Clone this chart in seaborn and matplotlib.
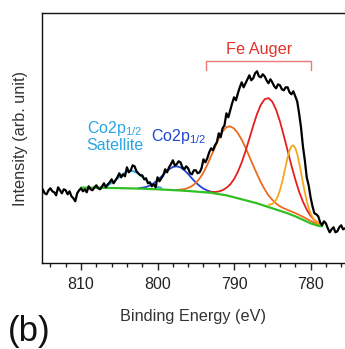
import numpy as np
import matplotlib
matplotlib.use("Agg")
import matplotlib.pyplot as plt
import seaborn as sns

# ---- data (binding energy in eV, intensity in arbitrary units) ----
spec_energy = np.arange(815.0, 775.4, -0.25)
spec_intensity = [74, 70, 69, 73, 75, 72, 71, 68, 76, 73, 70, 74, 73, 69, 72, 67,
                  65, 62, 70, 73, 75, 72, 74, 71, 77, 74, 73, 76, 78, 75, 74, 77,
                  80, 76, 79, 81, 84, 80, 83, 86, 90, 86, 89, 87, 96, 91, 93, 98,
                  97, 92, 90, 88, 88, 84, 85, 80, 81, 77, 79, 76, 86, 82, 85, 88,
                  94, 91, 96, 99, 103, 98, 99, 102, 101, 96, 94, 97, 95, 90, 89, 93,
                  93, 90, 91, 95, 104, 101, 105, 111, 115, 113, 118, 121, 130, 126, 135, 138,
                  150, 146, 153, 160, 166, 163, 170, 176, 181, 176, 180, 184, 188, 183, 185, 190,
                  192, 187, 186, 189, 187, 183, 180, 184, 181, 177, 175, 179, 178, 174, 173, 176,
                  176, 171, 169, 172, 167, 162, 150, 136, 117, 103, 86, 78, 66, 57, 50, 49,
                  47, 41, 38, 42, 40, 35, 31, 34, 36, 31, 32, 36, 38, 34, 35]

bg_energy = [810, 809, 808, 807, 806, 805, 804, 803, 802, 801, 800, 799, 798,
             797, 796, 795, 794, 793, 792, 791, 790, 789, 788, 787, 786, 785,
             784, 783, 782, 781, 780, 779, 778.5]
bg_intensity = [75.7, 75.6, 75.5, 75.4, 75.3, 75.2, 75.0, 74.8, 74.6, 74.3,
                74.0, 73.6, 73.2, 72.8, 72.3, 71.7, 71.1, 70.5, 69.2, 68.0,
                66.0, 64.0, 62.0, 60.0, 57.5, 55.0, 52.5, 50.0, 47.0, 43.5,
                40.0, 37.5, 37.0]

sat_energy = np.arange(808.0, 799.4, -0.5)
sat_intensity = [75.3, 75.8, 76.6, 78.0, 80.2, 83.0, 86.3, 89.4, 91.7, 92.5,
                 91.7, 89.4, 86.3, 83.0, 80.2, 78.0, 76.4, 75.5]

co_energy = np.arange(802.5, 792.4, -0.5)
co_intensity = [75.0, 75.6, 76.3, 77.8, 80.1, 83.1, 86.7, 90.6, 94.0, 96.3,
                97.0, 95.9, 93.1, 89.3, 84.9, 80.8, 77.4, 74.7, 72.8, 71.6, 70.7]

fe1_energy = np.arange(797.5, 778.4, -0.5)
fe1_intensity = [73.4, 73.7, 74.2, 75.4, 77.3, 80.3, 84.8, 90.8, 98.4, 107.2,
                 115.9, 124.7, 131.7, 136.2, 137.0, 134.8, 130.2, 123.6, 115.6, 106.8,
                 97.8, 89.2, 81.0, 74.0, 67.9, 63.5, 59.7, 57.0, 55.0, 53.4,
                 51.8, 50.2, 48.4, 46.5, 44.5, 42.5, 40.7, 39.0, 38.0]

fe2_energy = np.arange(793.5, 778.4, -0.5)
fe2_intensity = [71.2, 71.3, 71.3, 71.8, 73.1, 75.5, 78.9, 84.2, 91.5, 100.9,
                 112.2, 124.7, 137.5, 149.3, 158.5, 164.1, 165.2, 161.6, 153.5, 141.8,
                 127.7, 112.7, 97.7, 83.9, 71.7, 61.7, 53.6, 47.5, 43.2, 40.1, 38.4]

fe3_energy = np.arange(785.5, 778.4, -0.25)
fe3_intensity = [58.5, 58.7, 59.5, 61.0, 63.5, 67.6, 73.2, 80.3, 88.5, 97.4,
                 105.8, 112.6, 116.9, 117.9, 115.4, 109.5, 101.0, 91.2, 80.8, 71.0,
                 62.4, 55.4, 49.8, 46.0, 43.2, 41.2, 39.8, 38.8, 38.2]

x_ticks = [810, 800, 790, 780]
x_minor = np.arange(814, 775, -2)

# ---- style ----
sns.set_theme(style="white")
plt.rcParams['font.family'] = ['Liberation Sans', 'DejaVu Sans']
plt.rcParams['mathtext.fontset'] = 'custom'
plt.rcParams['mathtext.rm'] = 'Liberation Sans'
plt.rcParams['mathtext.it'] = 'Liberation Sans'

fig = plt.figure(figsize=(3.45, 3.49), dpi=100)
ax = fig.add_axes([42 / 345, 1 - 263.3 / 349, 1 - 42 / 345, (263.3 - 13.3) / 349])

c_black = "#000000"
c_sat = "#2ba6e1"
c_co = "#1f45d2"
c_fe1 = "#ef6a1f"
c_fe2 = "#e3201f"
c_fe3 = "#f6a71d"
c_bg = "#30bf24"

sns.lineplot(x=spec_energy, y=spec_intensity, ax=ax, color=c_black, lw=1.6, zorder=5)
sns.lineplot(x=sat_energy, y=sat_intensity, ax=ax, color=c_sat, lw=1.3, zorder=3)
sns.lineplot(x=co_energy, y=co_intensity, ax=ax, color=c_co, lw=1.3, zorder=3)
sns.lineplot(x=fe1_energy, y=fe1_intensity, ax=ax, color=c_fe1, lw=1.3, zorder=3)
sns.lineplot(x=fe2_energy, y=fe2_intensity, ax=ax, color=c_fe2, lw=1.3, zorder=3)
sns.lineplot(x=fe3_energy, y=fe3_intensity, ax=ax, color=c_fe3, lw=1.3, zorder=3)
sns.lineplot(x=bg_energy, y=bg_intensity, ax=ax, color=c_bg, lw=1.6, zorder=4)

ax.set_xlim(815.1, 775.5)
ax.set_ylim(0, 250)
ax.set_yticks([])
ax.set_xticks(x_ticks)
ax.set_xticks(x_minor, minor=True)
ax.tick_params(axis='x', which='major', direction='out', length=5, width=1,
               bottom=True, labelsize=11.5, pad=5, colors='#222222')
ax.tick_params(axis='x', which='minor', direction='out', length=3, width=1, bottom=True,
               colors='#222222')
for s in ['left', 'top', 'bottom']:
    ax.spines[s].set_color('#111111')
    ax.spines[s].set_linewidth(1.0)
ax.spines['right'].set_visible(False)

ax.set_xlabel("Binding Energy (eV)", fontsize=11.7, color='#333333', labelpad=12)
ax.set_ylabel("Intensity (arb. unit)", fontsize=11.7, color='#333333', labelpad=10)

# annotations
ax.text(805.6, 135, "Co2p$_{1/2}$", color=c_sat, fontsize=11.5, ha='center', va='center')
ax.text(805.6, 118, "Satellite", color=c_sat, fontsize=11.5, ha='center', va='center')
ax.text(797.3, 126.5, "Co2p$_{1/2}$", color=c_co, fontsize=11.5, ha='center', va='center')
ax.text(786.7, 214, "Fe Auger", color="#e0332c", fontsize=11.7, ha='center', va='center')
ax.plot([793.7, 793.7, 779.9, 779.9], [193.5, 202.3, 202.3, 193.5],
        color="#e77a7a", lw=1.0, clip_on=False)

fig.text(8 / 345, 1 - 331 / 349, "(b)", fontsize=25, ha='left', va='center', color='#111111')

fig.savefig("out.png", dpi=100)
